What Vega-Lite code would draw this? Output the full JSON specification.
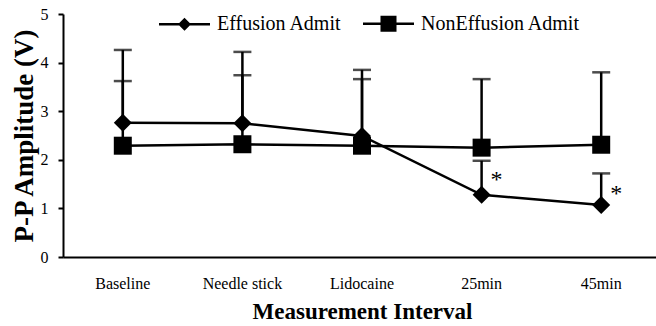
{
  "$schema": "https://vega.github.io/schema/vega-lite/v6.json",
  "autosize": "none",
  "padding": {"left": 63, "top": 14, "right": 0, "bottom": 69},
  "width": 598,
  "height": 243,
  "background": "white",
  "config": {
    "view": {"stroke": null},
    "font": "Liberation Serif",
    "axis": {"labelFont": "Liberation Serif", "titleFont": "Liberation Serif", "labelColor": "black", "titleColor": "black", "domainColor": "black", "tickColor": "black", "grid": false},
    "legend": {"labelFont": "Liberation Serif", "titleFont": "Liberation Serif"}
  },
  "datasets": {
    "groups": [
      {"interval": "Baseline", "series": "Effusion Admit", "mean": 2.76, "upper": 4.26},
      {"interval": "Needle stick", "series": "Effusion Admit", "mean": 2.75, "upper": 4.22},
      {"interval": "Lidocaine", "series": "Effusion Admit", "mean": 2.49, "upper": 3.85},
      {"interval": "25min", "series": "Effusion Admit", "mean": 1.28, "upper": 1.98},
      {"interval": "45min", "series": "Effusion Admit", "mean": 1.07, "upper": 1.72},
      {"interval": "Baseline", "series": "NonEffusion Admit", "mean": 2.29, "upper": 3.62},
      {"interval": "Needle stick", "series": "NonEffusion Admit", "mean": 2.32, "upper": 3.74},
      {"interval": "Lidocaine", "series": "NonEffusion Admit", "mean": 2.29, "upper": 3.66},
      {"interval": "25min", "series": "NonEffusion Admit", "mean": 2.25, "upper": 3.66},
      {"interval": "45min", "series": "NonEffusion Admit", "mean": 2.31, "upper": 3.8}
    ],
    "stars": [
      {"interval": "25min", "pos": 1.69, "note": "*"},
      {"interval": "45min", "pos": 1.4, "note": "*"}
    ]
  },
  "encoding": {
    "x": {
      "field": "interval", "type": "nominal",
      "sort": ["Baseline", "Needle stick", "Lidocaine", "25min", "45min"],
      "scale": {"domain": ["Baseline", "Needle stick", "Lidocaine", "25min", "45min"], "paddingInner": 0, "paddingOuter": 0},
      "axis": {"title": "Measurement Interval", "titleFont": "Liberation Serif", "labelFont": "Liberation Serif", "titleFontSize": 23, "titleFontWeight": "bold", "titlePadding": 9, "labelAngle": 0, "labelFontSize": 16, "labelPadding": 18, "ticks": false, "domainWidth": 2}
    }
  },
  "resolve": {"scale": {"shape": "independent"}},
  "layer": [
    {
      "data": {"name": "groups"},
      "mark": {"type": "rule", "color": "black", "strokeWidth": 2.5},
      "encoding": {
        "y": {"field": "mean", "type": "quantitative",
          "scale": {"domain": [0, 5], "nice": false},
          "axis": {"title": "P-P Amplitude (V)", "titleFont": "Liberation Serif", "labelFont": "Liberation Serif", "titleFontSize": 27, "titleFontWeight": "bold", "titlePadding": 2, "values": [0, 1, 2, 3, 4, 5], "labelFontSize": 16, "labelPadding": 10, "tickSize": 5, "tickWidth": 2, "domainWidth": 2}
        },
        "y2": {"field": "upper"}
      }
    },
    {
      "data": {"name": "groups"},
      "mark": {"type": "tick", "color": "black", "size": 18, "thickness": 2.5, "orient": "horizontal"},
      "encoding": {
        "y": {"field": "upper", "type": "quantitative"}
      }
    },
    {
      "data": {"name": "groups"},
      "mark": {"type": "line", "color": "black", "strokeWidth": 2.5},
      "encoding": {
        "y": {"field": "mean", "type": "quantitative"},
        "detail": {"field": "series"}
      }
    },
    {
      "data": {"name": "groups"},
      "mark": {"type": "point", "filled": true, "color": "black", "opacity": 1, "size": 324},
      "encoding": {
        "y": {"field": "mean", "type": "quantitative"},
        "shape": {
          "field": "series", "type": "nominal",
          "scale": {"domain": ["Effusion Admit", "NonEffusion Admit"], "range": ["diamond", "square"]},
          "legend": null
        }
      }
    },
    {
      "data": {"name": "groups"},
      "transform": [{"filter": "datum.mean < -100"}],
      "mark": {"type": "point", "filled": true, "fill": "black", "opacity": 1, "size": 2601},
      "encoding": {
        "y": {"field": "mean", "type": "quantitative"},
        "shape": {
          "field": "series", "type": "nominal",
          "scale": {"domain": ["Effusion Admit", "NonEffusion Admit"], "range": ["M-1,-0.05H1V0.05H-1ZM0,-0.255L0.255,0L0,0.255L-0.255,0Z", "M-1,-0.05H1V0.05H-1ZM-0.314,-0.314H0.314V0.314H-0.314Z"]},
          "legend": {
            "title": null,
            "orient": "none",
            "direction": "horizontal",
            "legendX": 95,
            "legendY": -17,
            "padding": 0,
            "labelFont": "Liberation Serif",
            "labelFontSize": 20,
            "labelColor": "black",
            "labelOffset": 6,
            "columnPadding": 18,
            "symbolSize": 2601,
            "symbolFillColor": "black",
            "symbolOpacity": 1
          }
        }
      }
    },
    {
      "data": {"name": "stars"},
      "mark": {"type": "text", "font": "Liberation Serif", "fontSize": 24, "color": "black", "dx": 15, "dy": 5, "baseline": "middle"},
      "encoding": {
        "y": {"field": "pos", "type": "quantitative"},
        "text": {"field": "note"}
      }
    }
  ]
}
